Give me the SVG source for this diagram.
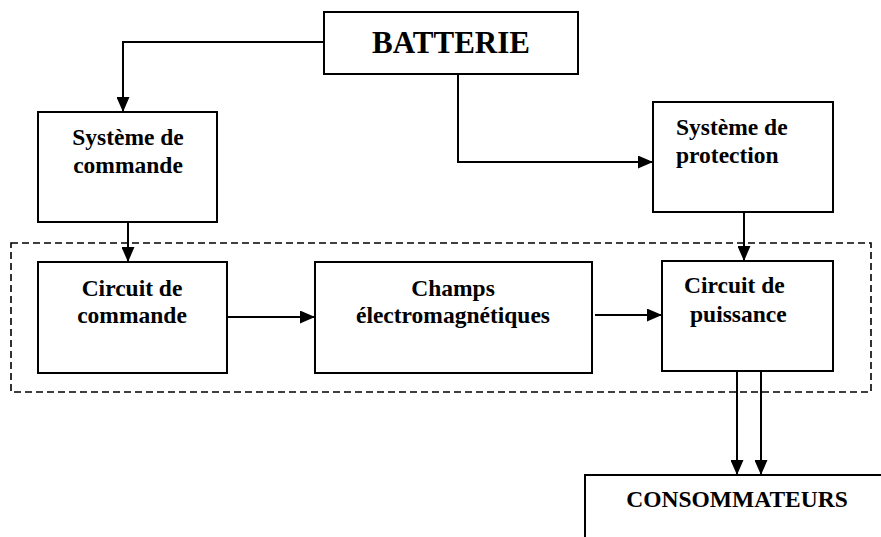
<svg xmlns="http://www.w3.org/2000/svg" width="881" height="537" viewBox="0 0 881 537">
<defs>
<marker id="arr" markerWidth="15" markerHeight="13" refX="15" refY="6.5" orient="auto" markerUnits="userSpaceOnUse">
<path d="M0,0 L15,6.5 L0,13 Z" fill="#000"/>
</marker>
<style>
.box{fill:#fff;stroke:#000;stroke-width:2}
.t{font-family:"Liberation Serif","Times New Roman",serif;font-weight:bold;font-size:23.5px;fill:#000}
.c{text-anchor:middle}
.ln{fill:none;stroke:#000;stroke-width:2}
</style>
</defs>
<rect width="881" height="537" fill="#fff"/>
<g id="group-dashed">
<rect x="11" y="243" width="860" height="149" fill="none" stroke="#000" stroke-width="1.6" stroke-dasharray="7,4"/>
</g>
<g id="batterie">
<rect class="box" x="324" y="12" width="254" height="62"/>
<text class="t c" x="451" y="53" style="font-size:31px">BATTERIE</text>
</g>
<g id="systeme-commande">
<rect class="box" x="38" y="112" width="179" height="110"/>
<text class="t c" x="128" y="145">Système de</text>
<text class="t c" x="128" y="173">commande</text>
</g>
<g id="systeme-protection">
<rect class="box" x="653" y="102" width="180" height="110"/>
<text class="t" x="676" y="135">Système de</text>
<text class="t" x="676" y="163">protection</text>
</g>
<g id="circuit-commande">
<rect class="box" x="38" y="262" width="189" height="111"/>
<text class="t c" x="132" y="296">Circuit de</text>
<text class="t c" x="132" y="323">commande</text>
</g>
<g id="champs">
<rect class="box" x="315" y="262" width="277" height="111"/>
<text class="t c" x="453" y="296">Champs</text>
<text class="t c" x="453" y="323">électromagnétiques</text>
</g>
<g id="circuit-puissance">
<rect class="box" x="662" y="261" width="171" height="110"/>
<text class="t" x="684" y="293">Circuit de</text>
<text class="t" x="690" y="322">puissance</text>
</g>
<g id="consommateurs">
<path class="ln" d="M585,537 L585,475 L881,475"/>
<text class="t c" x="737" y="507">CONSOMMATEURS</text>
</g>
<g id="connectors">
<path class="ln" d="M324,42 L123,42 L123,112" marker-end="url(#arr)"/>
<path class="ln" d="M458,74 L458,162 L653,162" marker-end="url(#arr)"/>
<path class="ln" d="M128,222 L128,262" marker-end="url(#arr)"/>
<path class="ln" d="M744,212 L744,261" marker-end="url(#arr)"/>
<path class="ln" d="M227,317 L315,317" marker-end="url(#arr)"/>
<path class="ln" d="M595,315 L662,315" marker-end="url(#arr)"/>
<path class="ln" d="M737,371 L737,475" marker-end="url(#arr)"/>
<path class="ln" d="M761,371 L761,475" marker-end="url(#arr)"/>
</g>
</svg>
